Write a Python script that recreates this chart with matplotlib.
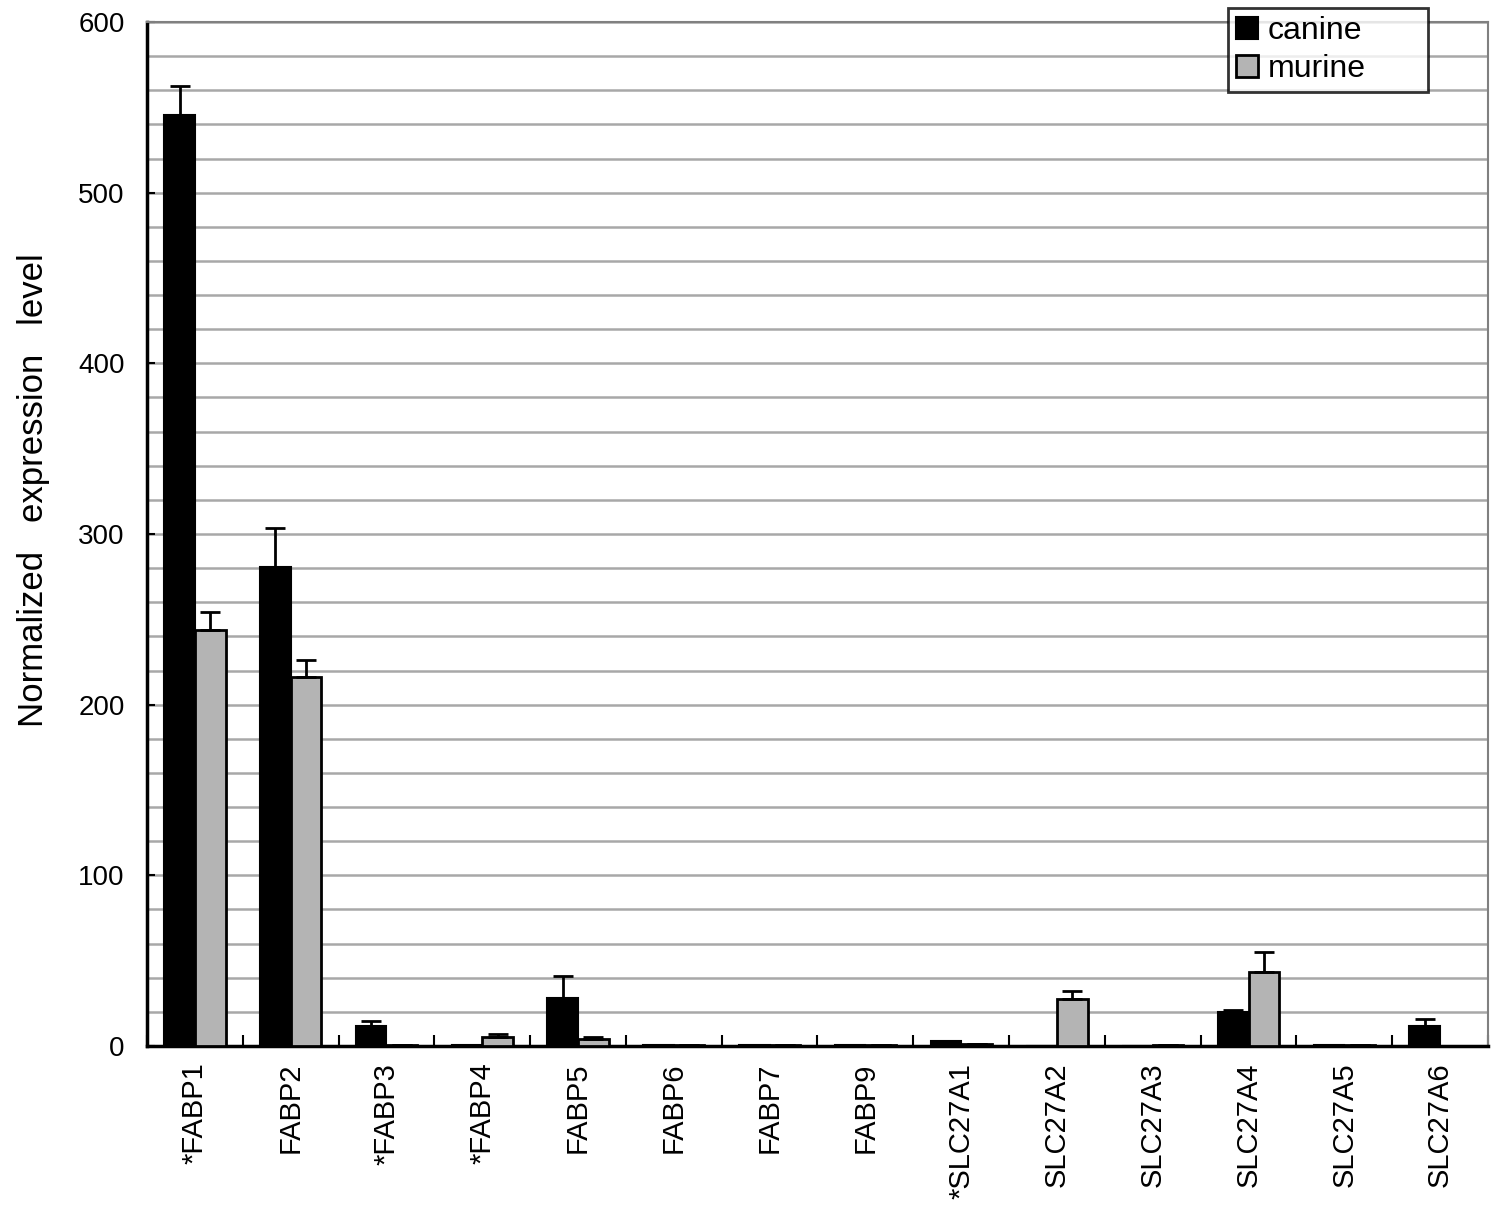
import numpy as np
import matplotlib
matplotlib.use("Agg")
import matplotlib.pyplot as plt
from matplotlib.ticker import MultipleLocator

plt.rcParams['font.family'] = ['Liberation Sans', 'DejaVu Sans']

genes = ["*FABP1", "FABP2", "*FABP3", "*FABP4", "FABP5", "FABP6", "FABP7",
         "FABP9", "*SLC27A1", "SLC27A2", "SLC27A3", "SLC27A4", "SLC27A5", "SLC27A6"]
canine = [545.5, 280.7, 11.7, 0.6, 28.0, 0.6, 0.6, 0.6, 3.0, 0.0, 0.0, 20.0, 0.6, 11.7]
canine_err = [17.0, 23.0, 3.0, 0.0, 13.0, 0.0, 0.0, 0.0, 0.0, 0.0, 0.0, 1.0, 0.0, 4.0]
murine = [243.7, 216.0, 0.6, 5.5, 4.3, 0.6, 0.6, 0.6, 1.0, 27.5, 0.7, 43.5, 0.6, 0.0]
murine_err = [10.5, 10.0, 0.0, 1.5, 1.2, 0.0, 0.0, 0.0, 0.0, 4.5, 0.0, 11.5, 0.0, 0.0]

fig = plt.figure(figsize=(15, 12.09), dpi=100)
ax = fig.add_axes([0.098, 0.1348, 0.894, 0.847])

x = np.arange(len(genes))
w = 0.32
ax.bar(x - w/2, canine, w, color='black', edgecolor='black', linewidth=1.5,
       yerr=[np.zeros(len(x)), canine_err], capsize=7,
       error_kw=dict(ecolor='black', elinewidth=2, capthick=2), zorder=3, label='canine')
ax.bar(x + w/2, murine, w, color='#b4b4b4', edgecolor='black', linewidth=2,
       yerr=[np.zeros(len(x)), murine_err], capsize=7,
       error_kw=dict(ecolor='black', elinewidth=2, capthick=2), zorder=3, label='murine')

ax.set_xlim(-0.5, len(genes) - 0.5)
ax.set_ylim(0, 600)
ax.yaxis.set_major_locator(MultipleLocator(100))
ax.yaxis.set_minor_locator(MultipleLocator(20))
ax.grid(axis='y', which='both', color='#a8a8a8', linewidth=1.8, zorder=0)
ax.set_axisbelow(True)

ax.set_xticks(x)
ax.set_xticklabels(genes, rotation=90, fontsize=21)
ax.tick_params(axis='x', which='major', length=0, pad=12)
ax.set_xticks(np.arange(-0.5, len(genes), 1.0), minor=True)
ax.tick_params(axis='x', which='minor', direction='in', length=8, width=1.5)
ax.tick_params(axis='y', which='major', direction='in', length=6, width=1.5, labelsize=20, pad=16)
ax.tick_params(axis='y', which='minor', direction='in', length=0)

for s in ['left', 'bottom']:
    ax.spines[s].set_linewidth(2.5)
for s in ['top', 'right']:
    ax.spines[s].set_linewidth(1.5)
    ax.spines[s].set_color('#808080')

ax.set_ylabel("Normalized   expression   level", fontsize=25)
ax.yaxis.set_label_coords(-0.072, 0.543)

leg = ax.legend(loc='upper left', bbox_to_anchor=(0.8187, 0.9256, 0.1333, 0.0678),
                bbox_transform=fig.transFigure, mode='expand',
                fontsize=23, frameon=True, fancybox=False, edgecolor='black',
                handlelength=0.7, handleheight=0.7, handletextpad=0.3,
                borderpad=0.25, labelspacing=0.25, borderaxespad=0)
leg.get_frame().set_linewidth(2)

fig.savefig("out.png", dpi=100)
